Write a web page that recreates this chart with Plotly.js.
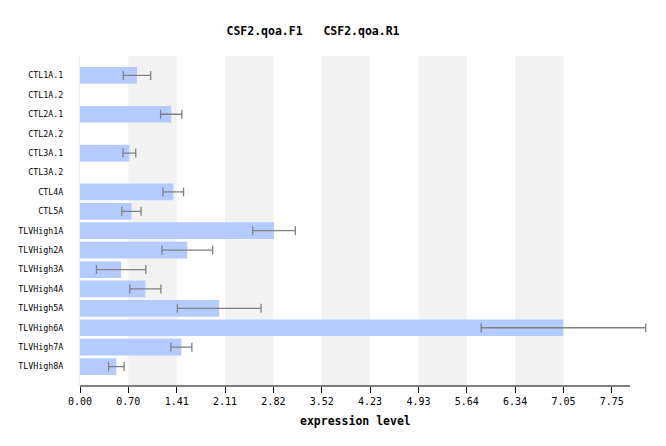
<!DOCTYPE html>
<html>
<head>
<meta charset="utf-8">
<script src="https://cdn.plot.ly/plotly-3.0.1.min.js"></script>
<style>html,body{margin:0;padding:0;background:#fff;}#chart{width:666px;height:446px;}</style>
</head>
<body>
<div id="chart"></div>
<script>
var categories = ["CTL1A.1","CTL1A.2","CTL2A.1","CTL2A.2","CTL3A.1","CTL3A.2","CTL4A","CTL5A",
  "TLVHigh1A","TLVHigh2A","TLVHigh3A","TLVHigh4A","TLVHigh5A","TLVHigh6A","TLVHigh7A","TLVHigh8A"];
var expression = [0.83,null,1.33,null,0.72,null,1.36,0.75,2.83,1.565,0.60,0.953,2.03,7.05,1.478,0.53];
var errors = [0.20,null,0.155,null,0.093,null,0.15,0.14,0.31,0.37,0.36,0.227,0.61,1.2,0.153,0.113];
var tickLabels = ["0.00","0.70","1.41","2.11","2.82","3.52","4.23","4.93","5.64","6.34","7.05","7.75"];
var tickStep = 0.705;
var axisEnd = 8.02;

var tickVals = tickLabels.map(function(_, i){ return i * tickStep; });
var shapes = [];
for (var i = 1; i + 1 < tickVals.length; i += 2) {
  shapes.push({type:'rect', xref:'x', yref:'paper', x0:tickVals[i], x1:tickVals[i+1], y0:0, y1:1,
    fillcolor:'#f2f2f2', line:{width:0}, layer:'below'});
}
// axis baseline (stops short of the plot area so the widest error bar can overhang it)
shapes.push({type:'line', xref:'x', yref:'paper', x0:0, x1:axisEnd, y0:0, y1:0,
  line:{color:'#000', width:1}, layer:'above'});

var trace = {
  type:'bar', orientation:'h', y:categories, x:expression,
  marker:{color:'#b3cbfe', line:{width:0}},
  error_x:{type:'data', array:errors, visible:true, color:'#808080', thickness:1.3, width:4.5},
  cliponaxis:false, hoverinfo:'x+y'
};

var mono = '"DejaVu Sans Mono", monospace';
var pxPerUnit = 550 / axisEnd;
var plotRightPad = 17;
var plotWidth = 666 - 80 - plotRightPad;
var plotHeight = 446 - 56 - 60;
var layout = {
  width:666, height:446,
  margin:{l:80, r:plotRightPad, t:56, b:60},
  paper_bgcolor:'#ffffff', plot_bgcolor:'#ffffff',
  showlegend:false,
  bargap:0.14,
  shapes:shapes,
  title:{text:'CSF2.qoa.F1\u00a0\u00a0\u00a0CSF2.qoa.R1', x:313/666, xref:'container', xanchor:'center',
    y:1-31/446, yref:'container', yanchor:'middle',
    font:{family:mono, size:11.5, color:'#000', weight:'bold'}},
  xaxis:{range:[0, plotWidth / pxPerUnit], tickmode:'array', tickvals:tickVals, ticktext:tickLabels,
    showgrid:false, zeroline:false, showline:false,
    ticks:'outside', ticklen:6, tickcolor:'#000', tickwidth:1,
    tickfont:{family:mono, size:10, color:'#000'}},
  annotations:[{text:'expression level', xref:'x', x:axisEnd / 2, xanchor:'center',
    yref:'paper', y:-(421 - 386) / plotHeight, yanchor:'middle', showarrow:false,
    font:{family:mono, size:11.5, color:'#000', weight:'bold'}}],
  yaxis:{type:'category', range:[16, -1], showgrid:false, zeroline:false,
    showline:true, linecolor:'#ececec', linewidth:1, layer:'below traces',
    ticks:'', ticklabelstandoff:14,
    tickfont:{family:mono, size:8.3, color:'#000'}}
};

Plotly.newPlot('chart', [trace], layout, {displayModeBar:false, staticPlot:true});
</script>
</body>
</html>
